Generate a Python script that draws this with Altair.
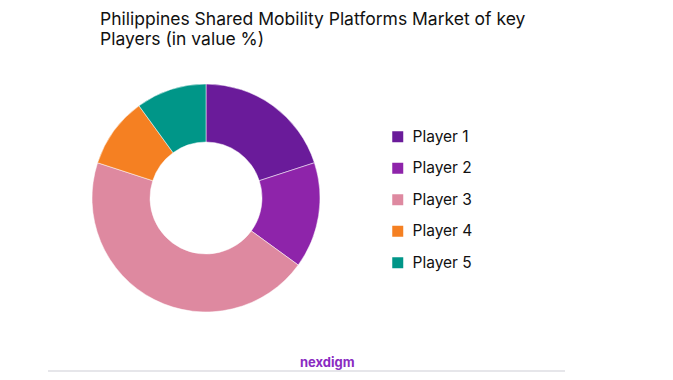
import altair as alt
import pandas as pd

title_lines = ["Philippines Shared Mobility Platforms Market of key", "Players (in value %)"]
players = ["Player 1", "Player 2", "Player 3", "Player 4", "Player 5"]
shares = [20, 15, 45, 10, 10]
colors = ["#6A1B9A", "#8E24AA", "#DE89A0", "#F58022", "#009688"]
brand = ["nexdigm"]

df = pd.DataFrame({"player": players, "share": shares, "idx": list(range(len(players)))})

FONT = "Inter"

donut = alt.Chart(df).mark_arc(innerRadius=56, outerRadius=114, stroke="white", strokeWidth=0.5).encode(
    theta=alt.Theta("share:Q", stack=True),
    order=alt.Order("idx:Q"),
    color=alt.Color(
        "player:N",
        scale=alt.Scale(domain=players, range=colors),
        legend=alt.Legend(
            title=None, orient="none", legendX=382, legendY=71,
            symbolType="square", symbolSize=121, symbolStrokeWidth=0,
            labelFontSize=15.5, labelFont=FONT, labelColor="#111111",
            rowPadding=14.5, labelOffset=7,
        ),
    ),
    x=alt.value(198),
    y=alt.value(140),
)

logo = alt.Chart(pd.DataFrame({"t": brand})).mark_text(
    font=FONT, fontSize=13, fontWeight="bold", color="#8A2BC2", align="left", baseline="middle"
).encode(text="t:N", x=alt.value(292), y=alt.value(305))

line = alt.Chart(pd.DataFrame({"a": [0]})).mark_rule(color="#E6E6EA", strokeWidth=2).encode(
    x=alt.value(40), x2=alt.value(557), y=alt.value(313)
)

chart = alt.layer(donut, logo, line).properties(
    width=657, height=314,
    autosize=alt.AutoSizeParams(type="none"),
    padding={"left": 0, "top": 50, "right": 0, "bottom": 0},
    title=alt.Title(
        title_lines, anchor="start", dx=92, fontSize=17.5, font=FONT, fontWeight="normal",
        color="#111111", offset=10, lineHeight=20,
    ),
).configure_view(stroke=None)

chart.save("out.html", embed_options={"renderer": "svg", "actions": False})
